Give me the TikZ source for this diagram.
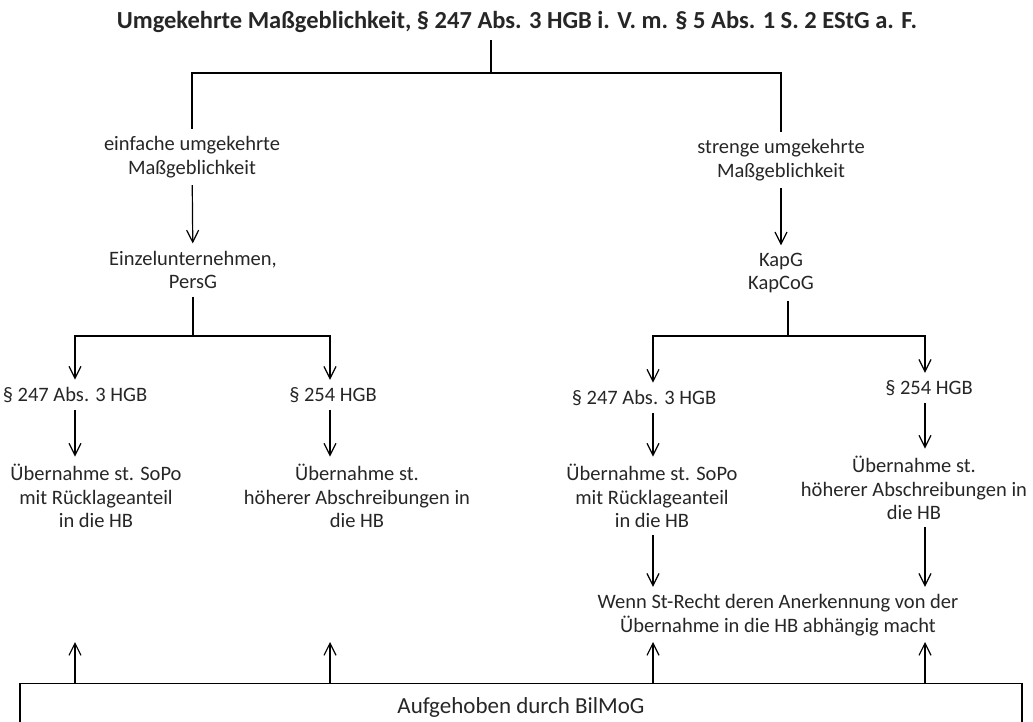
\documentclass[tikz,border=0pt]{standalone}
\usepackage{fontspec}
\setmainfont{Carlito}
\usetikzlibrary{arrows.meta}

\tikzset{
	txt/.style = {align = center, text = black!85, inner sep = 7pt,
		font = \fontsize{20.5}{23.5}\selectfont},
	fork/.style = {line width = 1.6pt}
}

\begin{document}
\begin{tikzpicture}[> = {Straight Barb[length = 12pt, width = 12pt]},
	x = 1pt, y = -1pt, line width = 1.2pt]

	% Definitions
	
	\def\XA{75}		% Columns of the arrows
	\def\XB{330}
	\def\XC{653}
	\def\XD{925}
	
	\useasboundingbox (0, 0) rectangle (1033, 722);
	
	\coordinate (colA) at (\XA, 0);
	\coordinate (colB) at (\XB, 0);
	\coordinate (colC) at (\XC, 0);
	\coordinate (colD) at (\XD, 0);
	\coordinate (upend) at (0, 642);
	
	% Title
	
	\node [txt, font = \fontsize{24.5}{27}\selectfont\bfseries] (title) at (517, 22)
		{Umgekehrte Maßgeblichkeit, § 247 Abs. 3 HGB i. V. m. § 5 Abs. 1 S. 2 EStG a. F.};
	
	% Two kinds
	
	\node [txt] (einf) at (192, 157) {einfache umgekehrte\\Maßgeblichkeit};
	\node [txt] (streng) at (781, 160) {strenge umgekehrte\\Maßgeblichkeit};
	
	\coordinate (top) at (491, 73);
	\draw [fork] (title.south -| top) -- (top);
	\draw [fork] (einf.north) |- (top) -| (streng.north);
	
	% Who is affected
	
	\node [txt] (einz) at (193, 270) {Einzelunternehmen,\\PersG};
	\node [txt] (kapg) at (781, 273) {KapG\\KapCoG};
	
	\draw [->] (einf) -- (einz);
	\draw [->] (streng) -- (kapg);
	
	% Legal bases
	
	\node [txt] (lpar) at (75, 395) {§ 247 Abs. 3 HGB};
	\node [txt] (lhgb) at (333, 395) {§ 254 HGB};
	\node [txt] (rpar) at (644, 398) {§ 247 Abs. 3 HGB};
	\node [txt] (rhgb) at (929, 388) {§ 254 HGB};
	
	\coordinate (lfork) at (193, 336);
	\coordinate (rfork) at (788, 336);
	
	\draw [fork] (einz.south) -- (lfork);
	\draw [fork] (kapg.south -| rfork) -- (rfork);
	\draw [->] (lfork) -| (colA |- lpar.north);
	\draw [->] (lfork) -| (colB |- lhgb.north);
	\draw [->] (rfork) -| (colC |- rpar.north);
	\draw [->] (rfork) -| (colD |- rhgb.north);
	
	% Consequences
	
	\node [txt] (lsopo) at (96, 496) {Übernahme st. SoPo\\mit Rücklageanteil\\in die HB};
	\node [txt] (labschr) at (357, 496) {Übernahme st.\\höherer Abschreibungen in\\die HB};
	\node [txt] (rsopo) at (652, 496) {Übernahme st. SoPo\\mit Rücklageanteil\\in die HB};
	\node [txt] (rabschr) at (914, 488) {Übernahme st.\\höherer Abschreibungen in\\die HB};
	
	\draw [->] (colA |- lpar.south) -- (colA |- lsopo.north);
	\draw [->] (colB |- lhgb.south) -- (colB |- labschr.north);
	\draw [->] (colC |- rpar.south) -- (colC |- rsopo.north);
	\draw [->] (colD |- rhgb.south) -- (colD |- rabschr.north);
	
	% Condition
	
	\node [txt] (wenn) at (778, 615)
		{Wenn St-Recht deren Anerkennung von der\\Übernahme in die HB abhängig macht};
	
	\draw [->] (colC |- rsopo.south) -- (colC |- wenn.north);
	\draw [->] (colD |- rabschr.south) -- (colD |- wenn.north);
	
	% Repeal
	
	\node [draw, txt, anchor = north, minimum width = 1002pt, minimum height = 48pt,
		font = \fontsize{23}{26}\selectfont] (bilmog) at (521, 683) {Aufgehoben durch BilMoG};
	
	\foreach \col in {colA, colB, colC, colD}
		\draw [->] (\col |- bilmog.north) -- (\col |- upend);

\end{tikzpicture}
\end{document}
